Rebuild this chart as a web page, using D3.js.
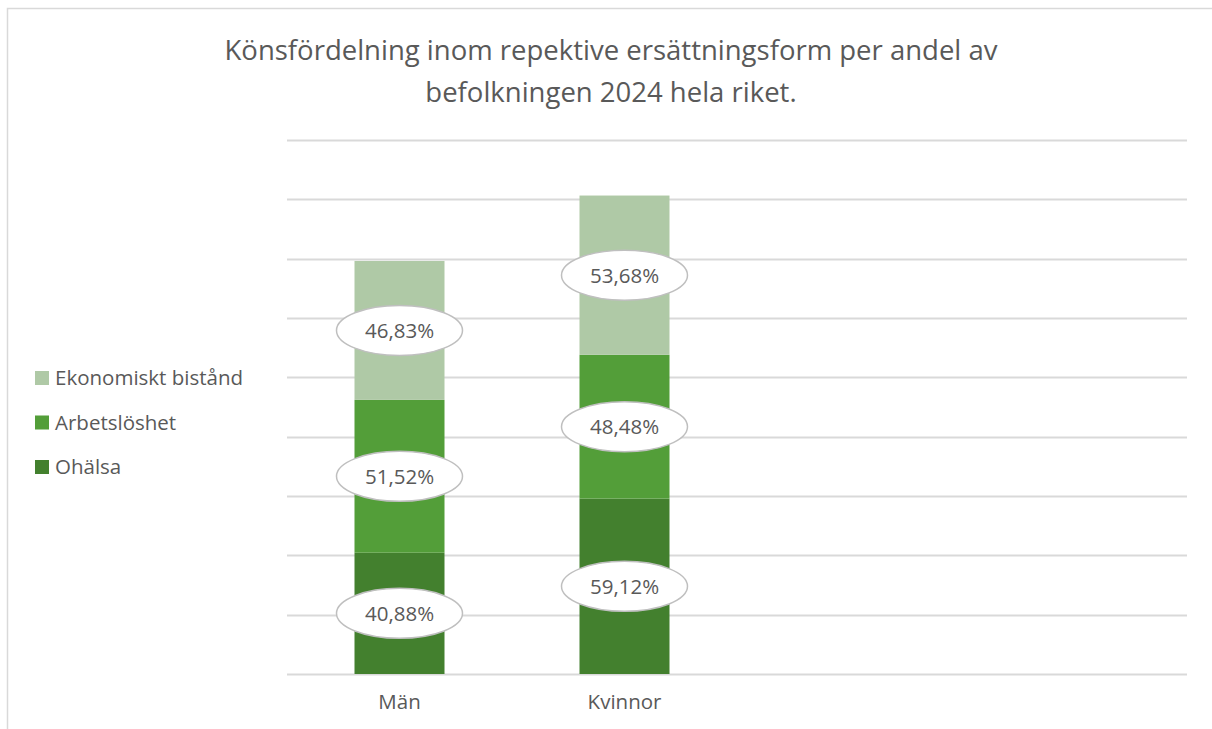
<!DOCTYPE html>
<html>
<head>
<meta charset="utf-8">
<script src="https://cdn.jsdelivr.net/npm/d3@7"></script>
<style>
    body { margin: 0; background: #fff; }
    text { font-family: "Open Sans", "Noto Sans", sans-serif; fill: #595959; }
</style>
</head>
<body>
<div id="chart"></div>
<script>
// chart data
const categories = ['Män', 'Kvinnor', ' ', '  '];
const seriesNames = ['Ohälsa', 'Arbetslöshet', 'Ekonomiskt bistånd'];
const ohalsa = [40.88, 59.12];
const arbetsloshet = [51.52, 48.48];
const ekonomisktBistand = [46.83, 53.68];
const yTicks = [0, 20, 40, 60, 80, 100, 120, 140, 160, 180];
const titleLines = ['Könsfördelning inom repektive ersättningsform per andel av', 'befolkningen 2024 hela riket.'];

const colors = ['#43802e', '#539e39', '#afc9a6'];

const width = 1212;
const height = 729;
const margins = {top: 140, right: 25, bottom: 55, left: 287};

const svg = d3.select('#chart')
    .append('svg')
    .attr('width', width)
    .attr('height', height);

// chart border (only top/left visible in the crop)
svg.append('rect')
    .attr('x', 7.5)
    .attr('y', 8.5)
    .attr('width', width + 20)
    .attr('height', height + 20)
    .attr('fill', 'none')
    .attr('stroke', '#d9d9d9')
    .attr('stroke-width', 1.5);

svg.append('text')
    .attr('text-anchor', 'middle')
    .attr('font-size', 27.5)
    .selectAll('tspan')
    .data(titleLines)
    .enter()
    .append('tspan')
    .attr('x', 611)
    .attr('y', (d, i) => 60 + i * 42)
    .text(d => d);

const graphWidth = width - margins.left - margins.right;
const graphHeight = height - margins.top - margins.bottom;

const graph = svg.append('g')
    .attr('transform', `translate(${margins.left}, ${margins.top})`);

const xScale = d3.scaleBand()
    .domain(categories)
    .range([0, graphWidth]);

const yScale = d3.scaleLinear()
    .domain([0, 180])
    .range([graphHeight, 0]);

graph.append('g')
    .selectAll('line')
    .data(yTicks)
    .enter()
    .append('line')
    .attr('x1', 0)
    .attr('x2', graphWidth)
    .attr('y1', d => Math.round(yScale(d)) + 0.5)
    .attr('y2', d => Math.round(yScale(d)) + 0.5)
    .attr('stroke', '#d9d9d9')
    .attr('stroke-width', 2);

const rows = categories.slice(0, 2).map((c, i) => ({
    cat: c,
    'Ohälsa': ohalsa[i],
    'Arbetslöshet': arbetsloshet[i],
    'Ekonomiskt bistånd': ekonomisktBistand[i]
}));
const stacked = d3.stack().keys(seriesNames)(rows);

const barWidth = xScale.bandwidth() * 0.4;
const barOffset = (xScale.bandwidth() - barWidth) / 2;

stacked.forEach((layer, li) => {
    graph.append('g')
        .selectAll('rect')
        .data(layer)
        .enter()
        .append('rect')
        .attr('x', d => xScale(d.data.cat) + barOffset)
        .attr('y', d => yScale(d[1]))
        .attr('width', barWidth)
        .attr('height', d => yScale(d[0]) - yScale(d[1]))
        .attr('fill', colors[li]);
});

// data labels in ellipses
stacked.forEach((layer) => {
    const g = graph.append('g')
        .selectAll('g')
        .data(layer)
        .enter()
        .append('g')
        .attr('transform', d => `translate(${xScale(d.data.cat) + xScale.bandwidth() / 2}, ${yScale((d[0] + d[1]) / 2)})`);
    g.append('ellipse')
        .attr('rx', 63)
        .attr('ry', 25)
        .attr('fill', '#fff')
        .attr('stroke', '#bfbfbf')
        .attr('stroke-width', 1.5);
    g.append('text')
        .attr('text-anchor', 'middle')
        .attr('dy', '0.36em')
        .attr('font-size', 20.5)
        .text(d => (d[1] - d[0]).toFixed(2).replace('.', ',') + '%');
});

graph.append('g')
    .attr('transform', `translate(0, ${graphHeight})`)
    .call(d3.axisBottom(xScale).tickSize(0).tickPadding(20))
    .call(a => a.select('.domain').remove())
    .selectAll('text')
    .attr('font-size', 20.5)
    .attr('font-family', '"Open Sans", "Noto Sans", sans-serif')
    .attr('fill', '#595959');

// legend, top item is the last series
const legend = svg.append('g')
    .selectAll('g')
    .data(seriesNames.slice().reverse())
    .enter()
    .append('g')
    .attr('transform', (d, i) => `translate(35, ${378 + i * 44.5})`);
legend.append('rect')
    .attr('x', 0)
    .attr('y', -7)
    .attr('width', 14)
    .attr('height', 14)
    .attr('fill', (d, i) => colors[2 - i]);
legend.append('text')
    .attr('x', 20)
    .attr('dy', '0.36em')
    .attr('font-size', 20.5)
    .text(d => d);
</script>
</body>
</html>
